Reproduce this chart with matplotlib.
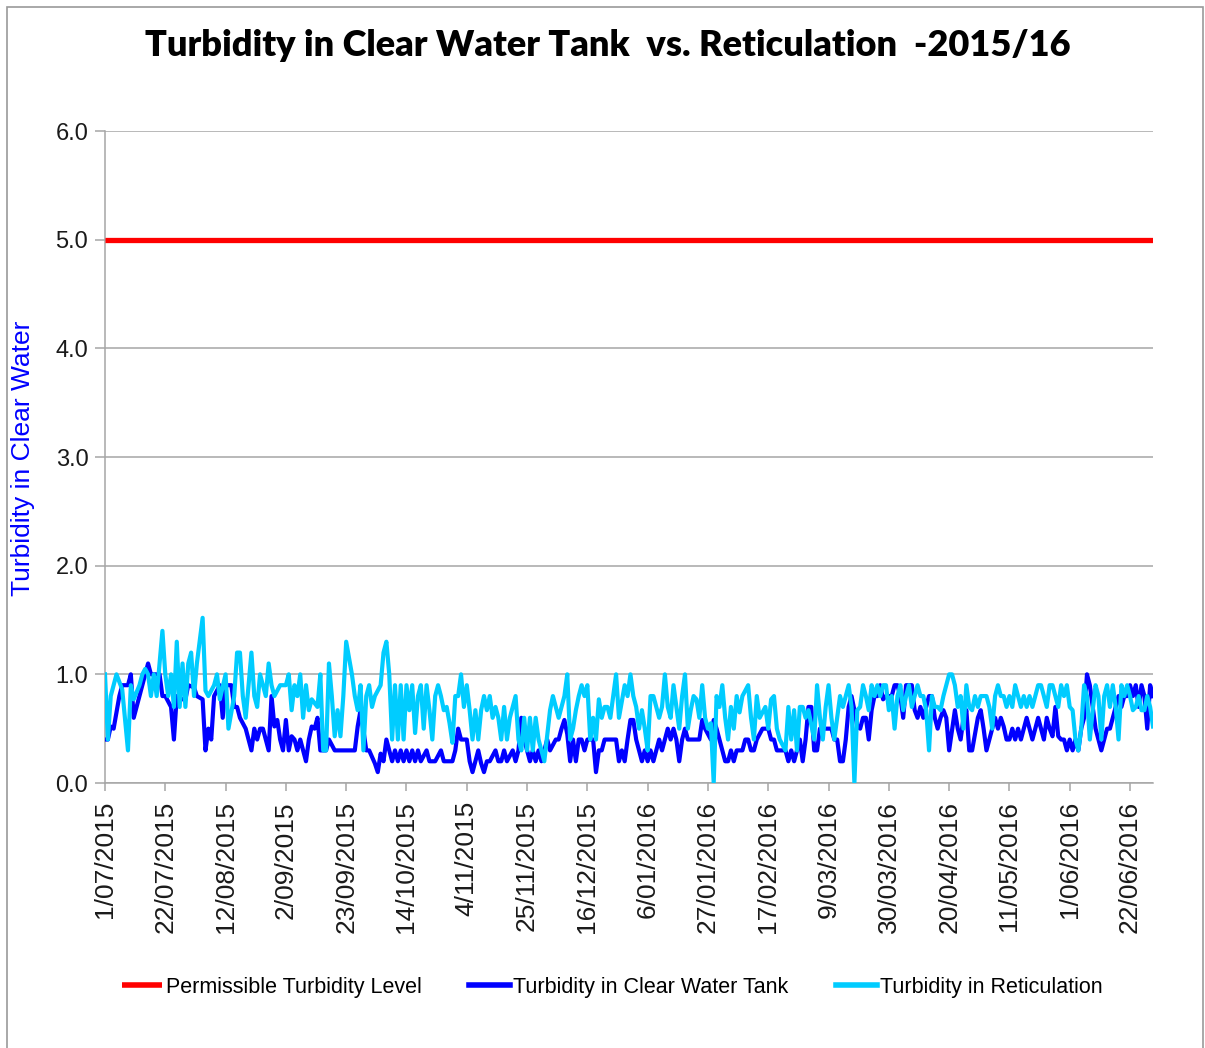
import datetime as dt
import matplotlib
matplotlib.use("Agg")
import matplotlib.pyplot as plt
from matplotlib.patches import Rectangle

# ---------------- data ----------------
start_date = dt.date(2015, 7, 1)
permissible_level = 5.0

tank_days = [0, 1, 2, 3, 5, 6, 8, 9, 10, 12, 13, 14, 15, 16, 17, 19, 20, 21, 23, 24, 25, 27, 28, 29, 31, 32,
             34, 35, 36, 37, 38, 40, 41, 42, 44, 45, 46, 47, 49, 51, 52, 53, 54, 55, 57, 58, 59, 60, 61, 62,
             63, 64, 65, 66, 67, 68, 69, 70, 71, 72, 73, 74, 75, 77, 78, 80, 87, 88, 89, 91, 92, 94, 95, 96,
             97, 98, 99, 100, 101, 102, 103, 104, 105, 106, 107, 108, 109, 110, 112, 113, 115, 117, 118, 120,
             121, 122, 123, 124, 126, 127, 128, 129, 130, 131, 132, 133, 134, 136, 137, 138, 139, 140, 142,
             143, 144, 145, 146, 147, 148, 149, 150, 151, 152, 153, 154, 155, 157, 158, 159, 160, 161, 162,
             163, 164, 165, 166, 167, 168, 170, 171, 172, 173, 174, 175, 177, 178, 179, 180, 181, 182, 183,
             184, 185, 186, 187, 188, 189, 190, 191, 192, 193, 194, 195, 196, 197, 198, 199, 200, 201, 202,
             203, 205, 207, 208, 209, 211, 212, 213, 214, 215, 216, 217, 218, 219, 220, 222, 223, 224, 225,
             226, 227, 229, 230, 231, 232, 233, 234, 236, 237, 238, 239, 240, 241, 242, 243, 244, 245, 246,
             247, 248, 249, 251, 253, 254, 255, 256, 257, 258, 259, 260, 261, 262, 263, 264, 265, 266, 267,
             268, 269, 270, 271, 272, 274, 275, 276, 277, 278, 279, 281, 282, 283, 284, 285, 286, 287, 288,
             289, 290, 291, 292, 293, 294, 296, 297, 298, 299, 300, 301, 302, 304, 305, 306, 307, 308, 309,
             310, 311, 312, 313, 314, 315, 316, 317, 318, 319, 320, 321, 322, 323, 324, 325, 326, 327, 328,
             329, 330, 331, 332, 333, 334, 335, 336, 337, 338, 339, 340, 341, 342, 343, 344, 345, 346, 347,
             349, 350, 351, 352, 353, 354, 355, 356, 357, 358, 359, 360, 361, 362, 363, 364, 365]
tank_vals = [0.4, 0.4, 0.52, 0.5, 0.8, 0.9, 0.9, 1.0, 0.6, 0.8, 0.9, 1.0, 1.1, 1.0, 1.0, 1.0, 0.8, 0.8, 0.7,
             0.4, 0.8, 0.77, 0.77, 0.9, 0.88, 0.8, 0.77, 0.3, 0.5, 0.4, 0.8, 0.9, 0.6, 0.9, 0.9, 0.7, 0.7,
             0.6, 0.5, 0.3, 0.5, 0.4, 0.5, 0.5, 0.3, 0.8, 0.52, 0.58, 0.4, 0.3, 0.58, 0.3, 0.43, 0.4, 0.3,
             0.4, 0.3, 0.2, 0.4, 0.52, 0.5, 0.6, 0.3, 0.3, 0.4, 0.3, 0.3, 0.52, 0.67, 0.3, 0.3, 0.18, 0.1,
             0.27, 0.2, 0.4, 0.3, 0.2, 0.3, 0.2, 0.3, 0.2, 0.3, 0.2, 0.3, 0.2, 0.3, 0.2, 0.3, 0.2, 0.2, 0.3,
             0.2, 0.2, 0.2, 0.3, 0.5, 0.4, 0.4, 0.2, 0.1, 0.2, 0.3, 0.18, 0.1, 0.2, 0.2, 0.3, 0.2, 0.2, 0.3,
             0.2, 0.3, 0.2, 0.3, 0.6, 0.4, 0.3, 0.2, 0.3, 0.2, 0.3, 0.2, 0.3, 0.4, 0.3, 0.4, 0.4, 0.5, 0.58,
             0.45, 0.2, 0.4, 0.2, 0.4, 0.4, 0.3, 0.4, 0.4, 0.1, 0.3, 0.3, 0.4, 0.4, 0.4, 0.4, 0.2, 0.3, 0.2,
             0.4, 0.58, 0.58, 0.4, 0.3, 0.2, 0.3, 0.2, 0.3, 0.2, 0.3, 0.4, 0.3, 0.4, 0.5, 0.4, 0.5, 0.4, 0.2,
             0.4, 0.5, 0.4, 0.4, 0.4, 0.58, 0.5, 0.4, 0.58, 0.5, 0.4, 0.3, 0.2, 0.2, 0.3, 0.2, 0.3, 0.3, 0.4,
             0.4, 0.3, 0.3, 0.4, 0.5, 0.5, 0.5, 0.4, 0.4, 0.3, 0.3, 0.3, 0.2, 0.3, 0.2, 0.3, 0.4, 0.2, 0.4,
             0.7, 0.7, 0.3, 0.3, 0.5, 0.5, 0.5, 0.4, 0.4, 0.2, 0.2, 0.4, 0.7, 0.8, 0.67, 0.52, 0.5, 0.6, 0.6,
             0.4, 0.67, 0.8, 0.8, 0.9, 0.77, 0.8, 0.8, 0.9, 0.9, 0.8, 0.6, 0.9, 0.9, 0.67, 0.6, 0.7, 0.6, 0.7,
             0.8, 0.8, 0.6, 0.5, 0.6, 0.67, 0.6, 0.3, 0.67, 0.5, 0.4, 0.6, 0.67, 0.3, 0.3, 0.6, 0.67, 0.5,
             0.3, 0.4, 0.5, 0.6, 0.5, 0.6, 0.52, 0.4, 0.4, 0.5, 0.4, 0.5, 0.4, 0.5, 0.6, 0.5, 0.4, 0.5, 0.6,
             0.5, 0.4, 0.6, 0.5, 0.43, 0.7, 0.43, 0.4, 0.4, 0.3, 0.4, 0.3, 0.4, 0.3, 0.5, 0.6, 1.0, 0.9, 0.7,
             0.5, 0.4, 0.3, 0.5, 0.5, 0.6, 0.7, 0.8, 0.7, 0.8, 0.8, 0.9, 0.8, 0.9, 0.7, 0.9, 0.8, 0.5, 0.9,
             0.8]

ret_days = [0, 1, 2, 4, 6, 8, 9, 10, 12, 13, 14, 15, 16, 17, 18, 20, 21, 22, 23, 24, 25, 26, 27, 28, 29, 30,
            31, 32, 34, 35, 36, 38, 39, 40, 42, 43, 45, 46, 47, 48, 49, 51, 52, 53, 54, 56, 57, 58, 59, 61,
            63, 64, 65, 66, 67, 68, 69, 70, 71, 72, 74, 75, 76, 77, 78, 79, 80, 81, 82, 83, 84, 86, 87, 88,
            89, 90, 91, 92, 93, 94, 96, 97, 98, 99, 100, 101, 102, 103, 104, 105, 106, 107, 108, 109, 110,
            111, 112, 113, 114, 115, 116, 117, 118, 119, 120, 121, 122, 123, 124, 125, 126, 127, 128, 129,
            130, 131, 132, 133, 134, 135, 136, 137, 138, 139, 140, 141, 143, 144, 145, 146, 147, 148, 149,
            150, 151, 152, 153, 155, 156, 157, 158, 159, 160, 161, 162, 163, 164, 165, 166, 167, 168, 169,
            170, 171, 172, 173, 174, 175, 176, 177, 178, 179, 180, 181, 182, 183, 184, 185, 186, 187, 188,
            189, 190, 191, 192, 193, 194, 195, 196, 197, 198, 199, 200, 201, 202, 203, 204, 205, 206, 207,
            208, 209, 210, 211, 212, 213, 214, 215, 216, 217, 218, 219, 220, 221, 222, 224, 225, 226, 227,
            228, 230, 231, 232, 233, 234, 235, 237, 238, 239, 240, 241, 242, 243, 244, 245, 247, 248, 249,
            250, 251, 252, 253, 254, 256, 257, 258, 259, 260, 261, 262, 263, 264, 265, 266, 267, 268, 269,
            270, 271, 272, 273, 274, 275, 276, 277, 278, 279, 280, 281, 282, 283, 284, 285, 286, 287, 288,
            289, 290, 291, 292, 293, 294, 295, 296, 297, 298, 299, 300, 301, 302, 303, 304, 305, 307, 308,
            309, 310, 311, 312, 313, 314, 315, 316, 317, 318, 319, 320, 321, 322, 323, 324, 325, 326, 327,
            328, 329, 330, 331, 332, 333, 334, 335, 336, 337, 338, 339, 340, 341, 342, 343, 344, 345, 346,
            347, 348, 349, 350, 351, 352, 353, 354, 355, 356, 357, 358, 359, 360, 361, 362, 363, 364, 365]
ret_vals = [1.0, 0.4, 0.8, 1.0, 0.86, 0.3, 0.9, 0.77, 0.9, 1.0, 1.05, 1.0, 0.8, 1.0, 0.8, 1.4, 1.0, 0.8, 1.0,
            0.7, 1.3, 0.7, 1.1, 0.7, 1.1, 1.2, 0.8, 1.1, 1.52, 0.85, 0.8, 0.9, 1.0, 0.77, 1.0, 0.5, 0.8, 1.2,
            1.2, 0.8, 0.6, 1.2, 0.8, 0.7, 1.0, 0.8, 1.1, 0.9, 0.8, 0.9, 0.9, 1.0, 0.67, 0.9, 0.8, 1.0, 0.6,
            0.9, 0.67, 0.77, 0.7, 1.0, 0.3, 0.3, 1.1, 0.8, 0.43, 0.67, 0.43, 0.8, 1.3, 1.0, 0.8, 0.67, 0.9,
            0.3, 0.8, 0.9, 0.7, 0.8, 0.9, 1.2, 1.3, 1.0, 0.4, 0.9, 0.4, 0.9, 0.4, 0.9, 0.67, 0.9, 0.46, 0.8,
            0.9, 0.5, 0.9, 0.67, 0.4, 0.8, 0.9, 0.8, 0.67, 0.7, 0.55, 0.37, 0.8, 0.8, 1.0, 0.7, 0.9, 0.67,
            0.4, 0.67, 0.4, 0.67, 0.8, 0.67, 0.8, 0.6, 0.7, 0.6, 0.4, 0.7, 0.4, 0.6, 0.8, 0.4, 0.3, 0.6, 0.3,
            0.6, 0.3, 0.6, 0.4, 0.3, 0.2, 0.67, 0.8, 0.7, 0.6, 0.7, 0.8, 1.0, 0.4, 0.5, 0.67, 0.8, 0.9, 0.8,
            0.9, 0.4, 0.6, 0.4, 0.77, 0.6, 0.7, 0.7, 0.6, 0.8, 1.0, 0.6, 0.75, 0.9, 0.8, 1.0, 0.8, 0.7, 0.5,
            0.67, 0.5, 0.3, 0.8, 0.8, 0.7, 0.6, 0.7, 1.0, 0.7, 0.6, 0.9, 0.7, 0.5, 0.8, 1.0, 0.5, 0.67, 0.8,
            0.77, 0.6, 0.9, 0.6, 0.5, 0.55, 0.0, 0.8, 0.7, 0.9, 0.6, 0.4, 0.7, 0.5, 0.8, 0.65, 0.8, 0.9, 0.6,
            0.4, 0.8, 0.6, 0.7, 0.5, 0.77, 0.8, 0.5, 0.4, 0.3, 0.7, 0.4, 0.67, 0.3, 0.7, 0.7, 0.6, 0.67, 0.4,
            0.9, 0.6, 0.4, 0.7, 0.9, 0.6, 0.4, 0.8, 0.7, 0.8, 0.9, 0.7, 0.0, 0.67, 0.7, 0.9, 0.8, 0.67, 0.9,
            0.8, 0.9, 0.8, 0.9, 0.9, 0.67, 0.8, 0.5, 0.8, 0.9, 0.67, 0.8, 0.9, 0.7, 0.8, 0.9, 0.8, 0.8, 0.67,
            0.3, 0.8, 0.7, 0.7, 0.67, 0.8, 0.9, 1.0, 1.0, 0.9, 0.7, 0.8, 0.5, 0.9, 0.7, 0.67, 0.8, 0.7, 0.8,
            0.8, 0.7, 0.5, 0.8, 0.9, 0.8, 0.8, 0.7, 0.8, 0.7, 0.9, 0.8, 0.7, 0.8, 0.7, 0.8, 0.7, 0.8, 0.9,
            0.9, 0.8, 0.7, 0.9, 0.9, 0.8, 0.7, 0.9, 0.8, 0.9, 0.7, 0.67, 0.4, 0.3, 0.5, 0.9, 0.8, 0.4, 0.67,
            0.9, 0.8, 0.4, 0.8, 0.9, 0.7, 0.9, 0.7, 0.4, 0.9, 0.8, 0.9, 0.8, 0.67, 0.7, 0.8, 0.67, 0.67, 0.8,
            0.7, 0.52]

tick_step_days = 21
title_text = "Turbidity in Clear Water Tank  vs. Reticulation  -2015/16"
ylabel_text = "Turbidity in Clear Water"
legend_labels = ["Permissible Turbidity Level", "Turbidity in Clear Water Tank", "Turbidity in Reticulation"]
y_ticks = [0.0, 1.0, 2.0, 3.0, 4.0, 5.0, 6.0]

# ---------------- figure ----------------
W, H = 1205, 1048
fig = plt.figure(figsize=(W / 100, H / 100), dpi=100)
fig.patch.set_facecolor("white")

ax = fig.add_axes([105 / W, 1 - 783 / H, (1153 - 105) / W, (783 - 131) / H])

tank_dates = [start_date + dt.timedelta(days=d) for d in tank_days]
ret_dates = [start_date + dt.timedelta(days=d) for d in ret_days]
end_date = start_date + dt.timedelta(days=max(ret_days[-1], tank_days[-1]))

red_line, = ax.plot([start_date, end_date], [permissible_level, permissible_level],
                    color="#FF0000", lw=3.8, solid_capstyle="butt", zorder=3)
tank_line, = ax.plot(tank_dates, tank_vals, color="#0000FF", lw=3.0, zorder=4,
                     solid_joinstyle="round")
ret_line, = ax.plot(ret_dates, ret_vals, color="#00CCFF", lw=3.0, zorder=5,
                    solid_joinstyle="round")

ax.set_ylim(0, 6)
ax.set_yticks(y_ticks)
ax.set_yticklabels([f"{v:.1f}" for v in y_ticks])
ax.set_xlim(start_date, start_date + dt.timedelta(days=365.7))

tick_dates = []
d = start_date
while d <= end_date:
    tick_dates.append(d)
    d = d + dt.timedelta(days=tick_step_days)
ax.set_xticks(tick_dates)
ax.set_xticklabels([f"{t.day}/{t.month:02d}/{t.year}" for t in tick_dates],
                   rotation=90, fontsize=19, family=["Liberation Sans", "DejaVu Sans"],
                   color="#1a1a1a")
for lab in ax.get_yticklabels():
    lab.set_fontsize(17)
    lab.set_family(["Liberation Sans", "DejaVu Sans"])
    lab.set_color("#1a1a1a")

grid_col = "#A6A6A6"
ax.grid(axis="y", color=grid_col, lw=1.1, zorder=0)
ax.set_axisbelow(True)
for s in ["top", "right"]:
    ax.spines[s].set_visible(False)
for s in ["left", "bottom"]:
    ax.spines[s].set_color(grid_col)
    ax.spines[s].set_linewidth(1.1)
ax.tick_params(axis="x", direction="out", length=6, width=1.1, color=grid_col, pad=7)
ax.tick_params(axis="y", direction="out", length=7, width=1.1, color=grid_col, pad=5)

ax.set_ylabel(ylabel_text, color="#0000FF", fontsize=19,
              family=["Liberation Sans", "DejaVu Sans"], labelpad=6)
ax.yaxis.set_label_coords(-70 / (1153 - 105), 0.5 + (783 - 458 - (783 - 131) / 2) / (783 - 131))

fig.text(608 / W, 1 - 45 / H, title_text, ha="center", va="center", fontsize=26,
         fontweight="heavy", family=["Lato", "DejaVu Sans"], color="black")

leg = fig.legend([red_line, tank_line, ret_line], legend_labels, loc="center",
                 bbox_to_anchor=(612 / W, 1 - 987 / H), ncol=3, frameon=False,
                 prop={"family": ["Liberation Sans", "DejaVu Sans"], "size": 15.5},
                 handlelength=1.9, handletextpad=0.15, columnspacing=2.2)
for h in leg.get_lines():
    h.set_linewidth(4)

# outer border of the chart area
fig.patches.append(Rectangle((7 / W, -0.01), (1203 - 7) / W, 1.01 - 7 / H,
                             transform=fig.transFigure, fill=False,
                             edgecolor="#9A9A9A", lw=1.2))

fig.savefig("out.png", dpi=100)
